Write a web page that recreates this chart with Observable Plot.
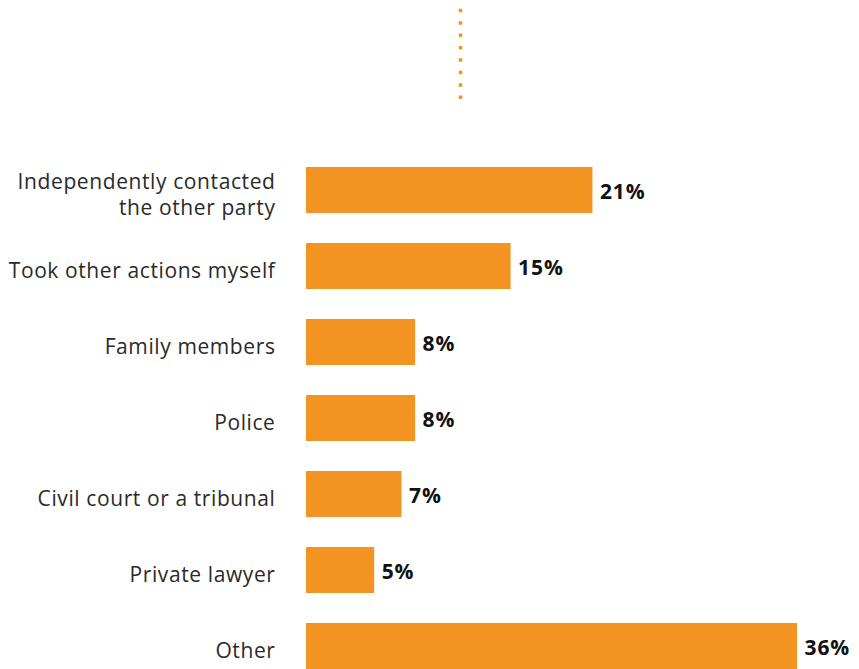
<!DOCTYPE html>
<html>
<head>
<meta charset="utf-8">
<script src="https://cdn.jsdelivr.net/npm/d3@7"></script>
<script src="https://cdn.jsdelivr.net/npm/@observablehq/plot@0.6"></script>
<style>
  html, body { margin: 0; padding: 0; background: #fff; }
  #wrap { position: relative; width: 859px; height: 669px; }
  #deco { position: absolute; left: 0; top: 0; }
  #wrap g[aria-label="y-axis tick label"] text { letter-spacing: 0.6px; }
  #wrap g[aria-label="text"] text { letter-spacing: 0.9px; }
</style>
</head>
<body>
<div id="wrap"></div>
<script>
const categories = [
  "Independently contacted\nthe other party",
  "Took other actions myself",
  "Family members",
  "Police",
  "Civil court or a tribunal",
  "Private lawyer",
  "Other"
];
const values = [21, 15, 8, 8, 7, 5, 36];
const valueLabels = ["21%", "15%", "8%", "8%", "7%", "5%", "36%"];

const data = categories.map((c, i) => ({category: c, value: values[i], label: valueLabels[i]}));
const orange = "#F39322";
const font = "'Open Sans', sans-serif";

const chart = Plot.plot({
  width: 859,
  height: 669,
  marginTop: 167,
  marginBottom: 0,
  marginLeft: 306,
  marginRight: 62,
  style: {fontFamily: font, background: "white", overflow: "visible"},
  x: {domain: [0, 36], axis: null},
  y: {domain: categories, paddingInner: 0.395, paddingOuter: 0, label: null},
  marks: [
    Plot.barX(data, {x: "value", y: "category", fill: orange}),
    Plot.text(data, {
      x: "value", y: "category", text: "label",
      textAnchor: "start", dx: 7, dy: 2,
      fontSize: 21, fontWeight: 700, fill: "#111"
    }),
    Plot.axisY({
      tickSize: 0, tickPadding: 31, label: null,
      fontSize: 21, fontWeight: 400, fill: "#2a2a2a",
      lineHeight: 1.25, dy: 3
    })
  ]
});
document.getElementById("wrap").appendChild(chart);

// decorative dotted connector at top
const deco = d3.select("#wrap").append("svg")
  .attr("id", "deco").attr("width", 859).attr("height", 110);
deco.append("line")
  .attr("x1", 460.5).attr("x2", 460.5).attr("y1", 10.5).attr("y2", 98)
  .attr("stroke", orange).attr("stroke-width", 4)
  .attr("stroke-linecap", "round").attr("stroke-dasharray", "0 12.4");
</script>
</body>
</html>
